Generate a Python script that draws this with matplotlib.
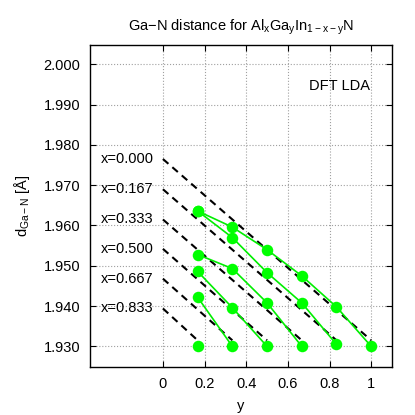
import matplotlib
matplotlib.use('Agg')
import matplotlib.pyplot as plt

plt.rcParams['font.family'] = ['Liberation Sans', 'DejaVu Sans']
plt.rcParams['mathtext.default'] = 'regular'

# Al content of each series and Ga content (y) of its points
al_labels = ['x=0.000', 'x=0.167', 'x=0.333', 'x=0.500', 'x=0.667', 'x=0.833']
al_x = [0.0, 1/6, 2/6, 3/6, 4/6, 5/6]

y_vals = [
    [1/6, 2/6, 3/6, 4/6, 5/6, 1.0],
    [1/6, 2/6, 3/6, 4/6, 5/6],
    [1/6, 2/6, 3/6, 4/6],
    [1/6, 2/6, 3/6],
    [1/6, 2/6],
    [1/6],
]
d_vals = [
    [1.9636, 1.9596, 1.9540, 1.9475, 1.9398, 1.9300],
    [1.9636, 1.9570, 1.9483, 1.9408, 1.9305],
    [1.9528, 1.9493, 1.9408, 1.9300],
    [1.9486, 1.9396, 1.9300],
    [1.9422, 1.9300],
    [1.9300],
]

# dashed reference lines: value at y=0 and at y=1-x
ref_start = [1.9765, 1.9690, 1.9615, 1.9542, 1.9468, 1.9394]
ref_end = [1.9315, 1.9315, 1.9315, 1.9315, 1.9315, 1.9315]

xticks = [0, 0.2, 0.4, 0.6, 0.8, 1.0]
xticklabels = ['0', '0.2', '0.4', '0.6', '0.8', '1']
yticks = [1.93, 1.94, 1.95, 1.96, 1.97, 1.98, 1.99, 2.00]

fig = plt.figure(figsize=(4.15, 4.15), dpi=100)
ax = fig.add_axes([0.2169, 0.1149, 0.7277, 0.7767])

for i in range(len(al_x)):
    ax.plot([0, 1 - al_x[i]], [ref_start[i], ref_end[i]], color='black',
            linestyle=(0, (3.5, 2.5)), linewidth=1.5, zorder=2)
    ax.text(-0.045, ref_start[i], al_labels[i], ha='right', va='center', fontsize=10.5)

for i in range(len(al_x)):
    ax.plot(y_vals[i], d_vals[i], color='#00ee00', linewidth=1.2, zorder=3)
    ax.plot(y_vals[i], d_vals[i], linestyle='none', marker='o', markersize=8.3,
            color='#00ff00', markeredgewidth=0, zorder=4)

ax.set_xlim(-0.35, 1.1)
ax.set_ylim(1.9248, 2.0048)
ax.set_xticks(xticks)
ax.set_xticklabels(xticklabels)
ax.set_yticks(yticks)
ax.set_yticklabels(['%.3f' % v for v in yticks])
ax.tick_params(direction='in', top=True, right=True, length=4, width=0.8,
               labelsize=10.5, pad=7)
ax.grid(True, color='#a0a0a0', linestyle=':', linewidth=0.8)
for s in ax.spines.values():
    s.set_linewidth(1.0)

ax.text(0.995, 1.9945, 'DFT LDA', ha='right', va='center', fontsize=10.5)

ax.set_title('Ga\u2212N distance for Al$_x$Ga$_y$In$_{1\u2212x\u2212y}$N', fontsize=10.5, pad=10)
ax.set_xlabel('y', fontsize=10.5, labelpad=6)
ax.set_ylabel('d$_{Ga\u2212N}$ [\u00c5]', fontsize=10.5, labelpad=8)

fig.savefig('out.png', dpi=100)
